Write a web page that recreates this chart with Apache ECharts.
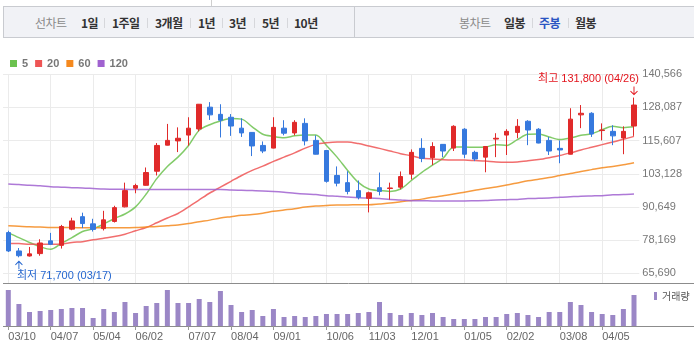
<!DOCTYPE html>
<html><head><meta charset="utf-8">
<script src="https://cdn.jsdelivr.net/npm/echarts@6/dist/echarts.min.js"></script>
<style>
html,body{margin:0;padding:0;background:#fff;}
#wrap{position:relative;width:694px;height:356px;overflow:hidden;background:#fff;}
#chart{position:absolute;left:0;top:0;width:694px;height:356px;}
#topbox{position:absolute;left:211px;top:0;width:1px;height:6px;background:#cfcfcf;}
#bar{position:absolute;left:3px;top:6px;width:700px;height:32px;background:#f1f2f6;border:1px solid #c9cbd0;box-sizing:border-box;}
#div{position:absolute;left:354px;top:6px;width:1px;height:32px;background:#c9cbd0;}
.t{position:absolute;top:15px;line-height:15px;font-family:"Noto Sans CJK KR",sans-serif;font-size:12px;letter-spacing:-0.5px;white-space:nowrap;color:#333;font-weight:bold;}
.g{color:#8a8a8a;font-weight:normal;}
.b{color:#2b55c2;}
.s{position:absolute;top:18px;width:1px;height:10px;background:#d6d7db;}
</style></head>
<body>
<div id="wrap">
<div id="chart"></div>
<div id="topbox"></div>
<div id="bar"></div>
<div id="div"></div>
<span class="t g" style="left:35px">선차트</span>
<span class="t" style="left:81px">1일</span><span class="s" style="left:104px"></span>
<span class="t" style="left:112px">1주일</span><span class="s" style="left:147px"></span>
<span class="t" style="left:155px">3개월</span><span class="s" style="left:190px"></span>
<span class="t" style="left:198px">1년</span><span class="s" style="left:222px"></span>
<span class="t" style="left:229px">3년</span><span class="s" style="left:254px"></span>
<span class="t" style="left:262px">5년</span><span class="s" style="left:287px"></span>
<span class="t" style="left:294px">10년</span>
<span class="t g" style="left:459px">봉차트</span>
<span class="t" style="left:504px">일봉</span><span class="s" style="left:532px"></span>
<span class="t b" style="left:539px">주봉</span><span class="s" style="left:568px"></span>
<span class="t" style="left:575px">월봉</span>
</div>
<script>
const categories = ['03/10','03/17','03/24','03/31','04/07','04/14','04/21','04/28','05/04','05/12',
'05/19','05/26','06/02','06/09','06/16','06/23','06/30','07/07','07/14','07/21',
'07/28','08/04','08/11','08/18','08/25','09/01','09/08','09/15','09/22','09/27',
'10/06','10/13','10/20','10/27','11/03','11/10','11/17','11/24','12/01','12/08',
'12/15','12/22','12/28','01/05','01/12','01/19','01/26','02/02','02/08','02/16',
'02/23','02/29','03/08','03/15','03/22','03/29','04/05','04/12','04/19','04/26'];
const tickLabels = ['03/10','04/07','05/04','06/02','07/07','08/04','09/01','10/06','11/03','12/01','01/05','02/02','03/08','04/05'];
const priceTicks = [65690, 78169, 90649, 103128, 115607, 128087, 140566];

const opens = [81000,74100,72200,73100,77900,76200,82300,87000,84300,82500,
85200,90700,97700,98800,104100,113900,115500,117700,120000,128200,
125500,124400,120300,118700,113800,112800,120300,118500,122100,115700,
111900,102500,99800,96800,93900,97900,97600,98100,103000,112700,
109200,114200,112800,119900,111200,109400,116200,117700,118700,122900,
119900,115700,112700,110500,125300,125900,119400,119100,116600,121100];
const closes = [74100,72300,73000,77100,76600,83300,85400,84400,82200,85800,
90400,96800,98700,103600,113800,115700,116500,120300,129300,125300,
123300,121100,118500,113600,111700,120600,118400,122500,115500,110500,
100300,99600,96500,94300,96000,96500,97800,102100,111200,108900,
113400,111700,121000,110500,108700,113400,116500,119100,121000,119600,
114700,111700,112100,123700,125900,118100,119600,117400,119100,129000];
const lows = [73700,71700,72000,72300,76400,75000,81900,82700,81400,81800,
84800,90500,95800,98700,102500,113800,111300,113700,119100,123400,
116800,117400,117000,109800,110900,112700,117600,117600,113800,110400,
99800,98400,95400,93500,88600,95000,93400,97300,101000,107500,
106400,109400,111700,109000,107900,103700,109400,110200,116500,113900,
114600,110200,107100,110400,120300,117000,115700,113900,110500,117400];
const highs = [81700,75200,75600,78500,80900,83900,86600,88500,86200,89200,
91100,99800,99400,105500,114700,121900,120600,124400,129400,130100,
129300,125600,124000,118800,115300,124400,123300,123300,124000,117600,
112000,105900,104100,100600,96400,103600,99800,104000,112300,116500,
115000,114300,121400,120300,111800,113500,118400,119900,123700,123300,
120300,117000,115700,127800,129000,126300,122100,121400,121000,131800];

const ma5 = [81000,79100,77300,75700,74700,76900,79100,81400,82400,84200,
86300,88000,90700,95500,101300,105900,109400,113800,119500,121600,
123000,123900,123700,120800,118000,117200,116700,117400,117700,117700,
113800,109400,104400,99900,97400,96800,96500,97400,100600,103700,
106400,109000,113200,113200,113100,113200,114100,113800,116000,118000,
118100,117000,116000,116600,117600,118200,119700,121000,120500,120800];
const ma20 = [76900,76900,76600,76600,76600,76700,77300,77600,78300,78900,
79500,80400,81700,82900,84700,86500,88200,90700,93300,95900,
98100,100300,102500,104400,106000,107800,109400,111000,112800,114200,
114800,115100,115100,114500,113600,112700,111700,110700,109900,109000,
108700,108400,108300,108300,108100,107900,107600,107500,107600,108000,
108500,109200,110000,111000,112100,113100,114100,115100,116100,117200];
const ma60 = [83600,83400,83200,83100,82900,82900,82900,82800,82800,82800,
82800,82800,82900,83100,83300,83600,83900,84400,85100,85700,
86500,87000,87500,87800,88300,89000,89500,90000,90600,91000,
91200,91400,91400,91500,91500,91800,92100,92600,93100,93600,
94300,94900,95500,96200,96900,97600,98200,98900,99700,100500,
101100,101700,102500,103200,104000,104700,105400,105900,106500,107300];
const ma120 = [99300,99100,98800,98600,98300,98100,97900,97800,97600,97400,
97300,97300,97200,97200,97200,97200,97200,97200,97200,97200,
97200,97000,96900,96800,96700,96500,96200,95800,95500,95300,
94900,94700,94400,94100,94000,93800,93500,93300,93000,93000,
92900,92900,92900,92900,93000,93100,93300,93400,93500,93800,
93900,94000,94300,94500,94700,94800,94900,95200,95300,95500];
const volume = [5400,3300,2100,2250,2400,2550,2700,2700,1200,2550,
2100,3600,1950,3000,3450,5400,3450,3450,4050,3600,
5250,3150,2100,2400,1500,2550,1350,1500,1350,1500,
1800,1800,1800,1950,2100,3600,1950,1650,1950,1650,
1950,1350,1050,1050,1050,1350,1350,1800,1950,1650,
1350,2100,2100,3600,3150,2100,1800,1650,2550,4650];

const hiIdx = 59, loIdx = 1;
const UP = '#e02a2a', DOWN = '#3679de';
const tickSet = new Set(tickLabels);
const showTick = (i, v) => tickSet.has(v);
const numFont = '"Liberation Sans", "Noto Sans CJK KR", sans-serif';

const chart = echarts.init(document.getElementById('chart'));
const candleData = categories.map((c, i) => [opens[i], closes[i], lows[i], highs[i]]);
const pMin = priceTicks[0], pMax = priceTicks[priceTicks.length - 1];

function maSeries(name, data, color) {
  return {name, type:'line', data, xAxisIndex:1, yAxisIndex:1, symbol:'none', smooth:0.3,
    lineStyle:{width:1.5, color, opacity:0.85}, itemStyle:{color}, z:2, silent:true};
}

chart.setOption({
  animation:false,
  textStyle:{fontFamily:numFont},
  legend:[
    {data:['5','20','60','120'], left:10, top:58, padding:0, icon:'rect', itemWidth:7, itemHeight:7, itemGap:7,
     selectedMode:false, textStyle:{fontSize:11, fontWeight:'bold', color:'#777', fontFamily:numFont}},
    {data:['거래량'], left:654, top:291, padding:0, icon:'rect', itemWidth:3, itemHeight:8, itemGap:3,
     selectedMode:false, textStyle:{fontSize:10, color:'#555', fontFamily:'"Noto Sans CJK KR", sans-serif'}}
  ],
  grid:[
    {left:8.3, right:60.3, top:74.3, bottom:73},
    {left:3, right:54.7, top:74.3, bottom:82.7},
    {left:3, right:54.7, top:290, bottom:30}
  ],
  xAxis:[
    {gridIndex:0, type:'category', data:categories, boundaryGap:false,
     axisLine:{show:false}, axisTick:{show:false}, axisLabel:{show:false},
     splitLine:{show:true, interval:showTick, lineStyle:{color:'#ebebeb', width:1}}},
    {gridIndex:1, type:'category', data:categories, boundaryGap:true, show:false},
    {gridIndex:2, type:'category', data:categories, boundaryGap:true,
     axisLine:{show:false},
     axisTick:{show:true, alignWithLabel:true, interval:showTick, length:4, lineStyle:{color:'#999'}},
     axisLabel:{interval:showTick, align:'left', margin:5, color:'#666', fontSize:11, fontFamily:numFont},
     splitLine:{show:false}}
  ],
  yAxis:[
    {gridIndex:0, type:'value', show:false},
    {gridIndex:1, type:'value', position:'right', min:pMin, max:pMax, interval:(pMax - pMin) / 6,
     axisLine:{show:false}, axisTick:{show:false},
     axisLabel:{margin:3, color:'#777', fontSize:11, fontFamily:numFont, padding:[3,0,0,0],
       formatter:v => Math.round(v).toLocaleString('en-US')},
     splitLine:{show:true, lineStyle:{color:'#ebebeb', width:1}}},
    {gridIndex:2, type:'value', min:0, max:Math.max(...volume), show:false}
  ],
  graphic:[
    {type:'line', silent:true, shape:{x1:3, y1:283.5, x2:694, y2:283.5}, style:{stroke:'#8c8c8c', lineWidth:1}},
    {type:'line', silent:true, shape:{x1:3, y1:326.5, x2:694, y2:326.5}, style:{stroke:'#8c8c8c', lineWidth:1}}
  ],
  series:[
    maSeries('5', ma5, '#6cc24f'),
    maSeries('20', ma20, '#ee5555'),
    maSeries('60', ma60, '#f5891e'),
    maSeries('120', ma120, '#a062d0'),
    {name:'candle', type:'candlestick', data:candleData, xAxisIndex:1, yAxisIndex:1, barWidth:5, z:3, silent:true,
     itemStyle:{color:UP, color0:DOWN, borderColor:UP, borderColor0:DOWN, borderWidth:1},
     markPoint:{silent:true, animation:false, data:[
       {coord:[categories[hiIdx], highs[hiIdx]], symbol:'path://M4 0 L4 9 M0 5 L4 9 L8 5', symbolSize:[7,8], symbolOffset:[0,-7],
        itemStyle:{color:'rgba(0,0,0,0)', borderColor:'#e3141c', borderWidth:1}, label:{show:false}},
       {coord:[categories[hiIdx], highs[hiIdx]], symbol:'circle', symbolSize:1, itemStyle:{color:'rgba(0,0,0,0)'},
        label:{show:true, position:'top', align:'right', distance:5, offset:[5,-8], color:'#e3141c', fontSize:11,
          fontFamily:numFont,
          formatter:'최고 ' + highs[hiIdx].toLocaleString('en-US') + ' (' + categories[hiIdx] + ')'}},
       {coord:[categories[loIdx], lows[loIdx]], symbol:'path://M4 9 L4 0 M0 4 L4 0 L8 4', symbolSize:[7,8], symbolOffset:[0,8],
        itemStyle:{color:'rgba(0,0,0,0)', borderColor:'#2466cf', borderWidth:1}, label:{show:false}},
       {coord:[categories[loIdx], lows[loIdx]], symbol:'circle', symbolSize:1, itemStyle:{color:'rgba(0,0,0,0)'},
        label:{show:true, position:'bottom', align:'left', distance:5, offset:[-2,8], color:'#2466cf', fontSize:11,
          fontFamily:numFont,
          formatter:'최저 ' + lows[loIdx].toLocaleString('en-US') + ' (' + categories[loIdx] + ')'}}
     ]}},
    {name:'거래량', type:'bar', data:volume, xAxisIndex:2, yAxisIndex:2, barWidth:5, silent:true,
     itemStyle:{color:'#9b87c6'}}
  ]
});
</script>
</body></html>
